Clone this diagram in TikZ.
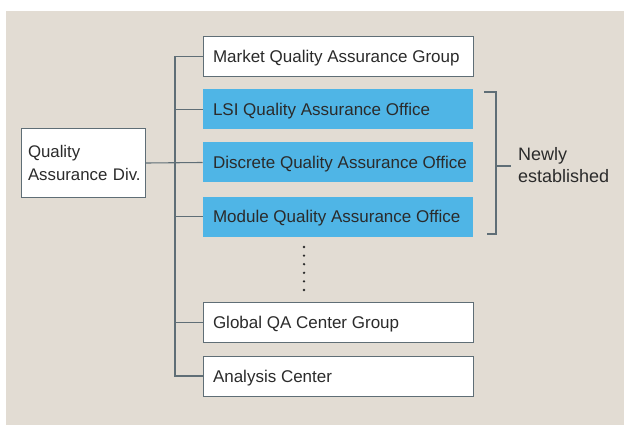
\documentclass[tikz,border=0pt]{standalone}
\usepackage{fontspec}
\setmainfont{Liberation Sans}
\definecolor{panel}{HTML}{E2DCD3}
\definecolor{officeblue}{HTML}{4FB5E6}
\definecolor{edge}{HTML}{5F6E76}
\definecolor{ink}{HTML}{2B2B2B}
\newcommand{\unittext}[1]{\makebox[250pt][l]{#1}}
\tikzset{
  unit/.style={draw=edge, line width=1pt, fill=white, minimum width=270pt, minimum height=40pt,
    inner xsep=10pt, inner ysep=0pt, text=ink, text height=12.2pt, text depth=-1pt,
    font=\fontsize{17}{20}\selectfont},
  newunit/.style={unit, draw=none, fill=officeblue},
  link/.style={draw=edge, line width=1.1pt},
  dotmark/.style={circle, fill=ink, inner sep=0pt, minimum size=2.6pt}
}
\begin{document}
\begin{tikzpicture}[x=1pt,y=-1pt]
\useasboundingbox (0,0) rectangle (624,425);
\fill[panel] (6,11) rectangle (624,425);
\node[draw=edge, line width=1pt, fill=white, minimum width=124pt, minimum height=68pt, text width=116pt,
  inner xsep=4pt, inner ysep=0pt, align=left, text=ink,
  font=\fontsize{16.8}{22.5}\selectfont] (qa) at (83,163) {\hspace*{3pt}Quality\\\hspace*{3pt}Assurance Div.};
\node[unit] (mkt) at (338,56.5) {\unittext{Market Quality Assurance Group}};
\node[newunit] (lsi) at (338,109.5) {\unittext{LSI Quality Assurance Office}};
\node[newunit] (disc) at (338,162.5) {\unittext{Discrete Quality Assurance Office}};
\node[newunit] (mod) at (338,216.5) {\unittext{Module Quality Assurance Office}};
\node[unit] (glob) at (338,322.5) {\unittext{Global QA Center Group}};
\node[unit] (ana) at (338,376) {\unittext{Analysis Center}};
\coordinate (trunk) at (175,0);
\draw[link] (mkt.west) -- (mkt.west -| trunk) -- (ana.west -| trunk) -- (ana.west);
\draw[link] (qa.east) -- (disc.west);
\draw[link] (lsi.west) -- (lsi.west -| trunk);
\draw[link] (mod.west) -- (mod.west -| trunk);
\draw[link] (glob.west) -- (glob.west -| trunk);
\foreach \i in {0,...,5} \node[dotmark] (d\i) at (304,{247+8.6*\i}) {};
\coordinate (bt) at (496,92);
\coordinate (bb) at (496,234);
\coordinate (bm) at (496,166);
\node[anchor=west, align=left, text=ink, inner sep=0pt, font=\fontsize{18}{22}\selectfont] (newly) at (518,165) {Newly\\established};
\draw[link] (bt) ++(-12,0) -- (bt) -- (bb) -- ++(-9,0);
\draw[link] (bm) -- ++(15,0);
\end{tikzpicture}
\end{document}
